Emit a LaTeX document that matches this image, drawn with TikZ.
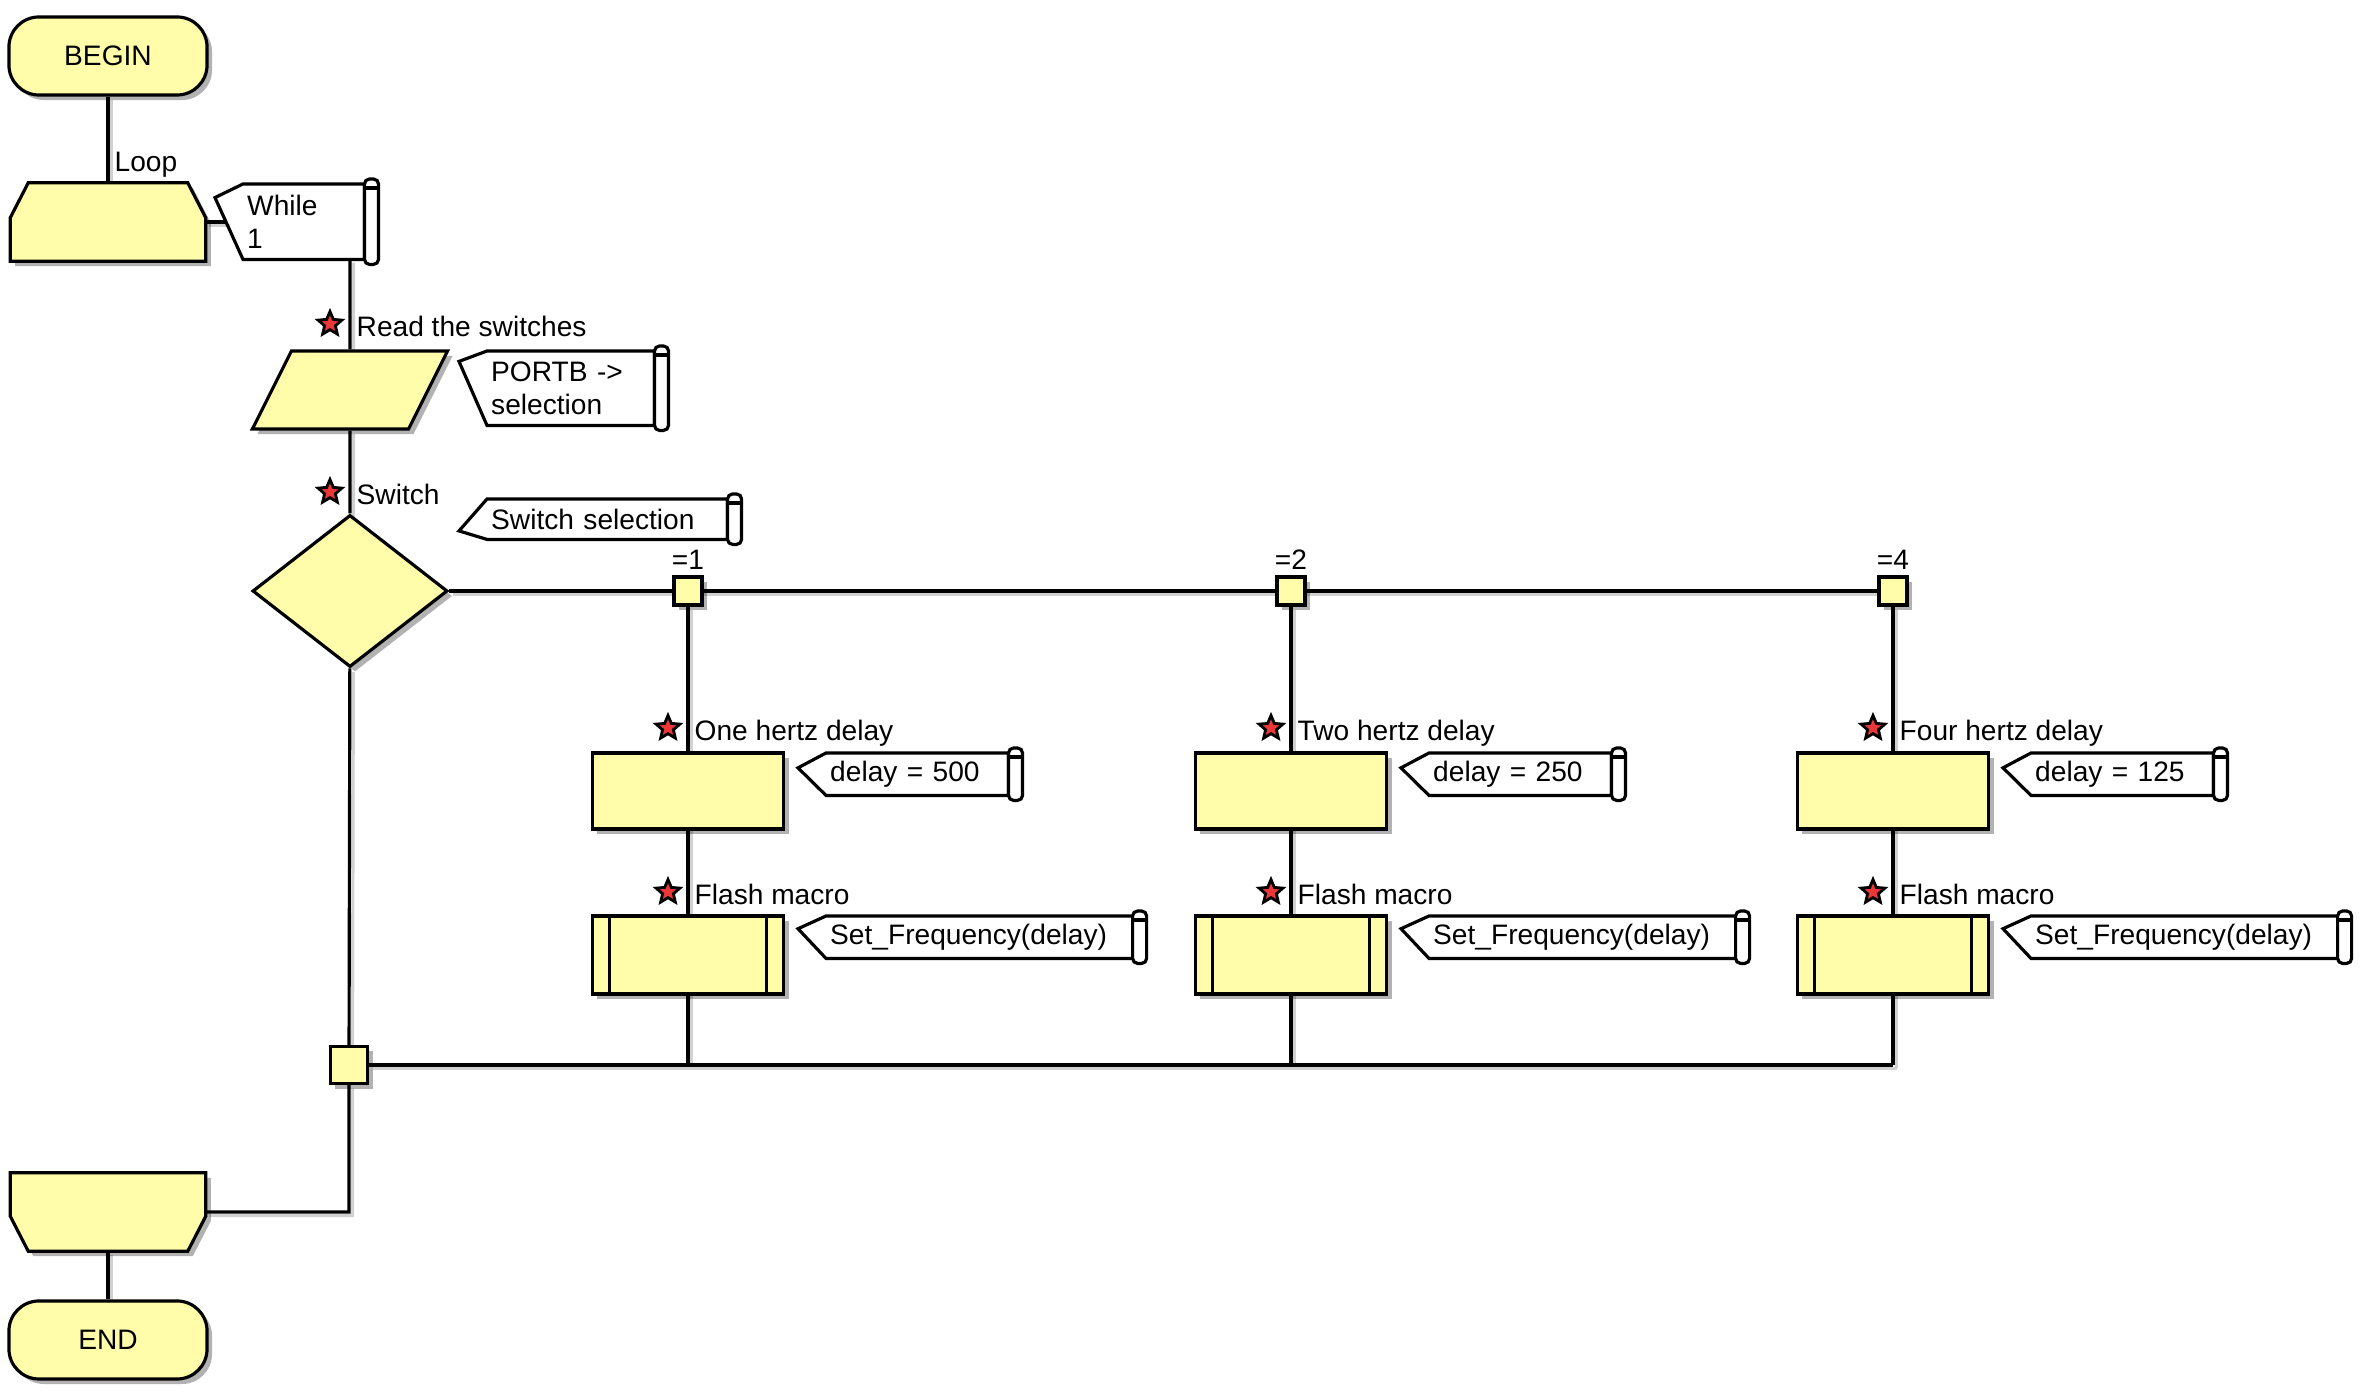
\documentclass[tikz,border=0pt]{standalone}
\usepackage{fontspec}
\setmainfont{Liberation Sans}
\usepackage{xcolor}
\usepackage{tikz}
\usetikzlibrary{shapes.geometric,shadows,calc,backgrounds}

\definecolor{fcyellow}{RGB}{255,252,170}
\definecolor{starred}{RGB}{235,55,55}

\begin{document}
\begin{tikzpicture}[
  x=0.01cm, y=-0.01cm,
  every node/.style={font=\fontsize{8}{9.4}\selectfont},
  box/.style={draw, line width=0.9pt, fill=fcyellow, inner sep=0pt,
    drop shadow={shadow xshift=0.05cm, shadow yshift=-0.05cm, opacity=0.3, fill=black}},
  terminal/.style={box, rectangle, rounded corners=0.3cm, minimum width=1.98cm, minimum height=0.78cm},
  loopnode/.style={inner sep=0pt, minimum width=1.94cm, minimum height=0.77cm},
  io/.style={box, trapezium, trapezium left angle=63.4, trapezium right angle=116.6,
    inner xsep=0.585cm, inner ysep=0.39cm},
  decision/.style={box, diamond, minimum width=1.95cm, minimum height=1.52cm},
  calcbox/.style={box, minimum width=1.91cm, minimum height=0.76cm},
  macrobox/.style={calcbox, minimum height=0.78cm,
    path picture={
      \draw[line width=0.9pt] ([xshift=0.17cm]path picture bounding box.north west) -- ([xshift=0.17cm]path picture bounding box.south west);
      \draw[line width=0.9pt] ([xshift=-0.17cm]path picture bounding box.north east) -- ([xshift=-0.17cm]path picture bounding box.south east);
    }},
  junction/.style={box, minimum size=0.28cm},
  cmt/.style 2 args={anchor=north west, inner xsep=1pt, inner ysep=0pt, align=left, text width=#1, minimum height=#2},
  cmtline/.style={line width=0.9pt},
  starmark/.style={star, star points=5, star point ratio=2.2, inner sep=0pt, minimum size=0.25cm,
    draw=black, line width=0.8pt, fill=starred},
  txt/.style={inner sep=0pt, anchor=base west},
  wire/.style={line width=0.9pt,
    preaction={draw=black!18, line width=0.9pt, transform canvas={shift={(0.035cm,-0.035cm)}}}}
]
\useasboundingbox (0,0) rectangle (2362,1392);

% Start and loop
\node[terminal] (begin) at (108,56) {BEGIN};
\node[txt] (lblLoop) at (114,172) {Loop};
\node[loopnode] (loopA) at (108,222) {};
\draw[box] ([xshift=0.18cm]loopA.north west) -- ([xshift=-0.18cm]loopA.north east)
  -- ([yshift=-0.35cm]loopA.north east) -- (loopA.south east) -- (loopA.south west)
  -- ([yshift=-0.35cm]loopA.north west) -- cycle;
\node[cmt={1.13cm}{0.74cm}] (cWhile) at (243,184) {While\\1};

% Read the switches
\node[starmark] (starRead) at (330,324) {};
\node[txt] (lblRead) at (356,337) {Read the switches};
\node[io] (read) at (350,390) {};
\node[cmt={1.59cm}{0.73cm}] (cRead) at (487,351) {PORTB ->\\selection};

% Switch
\node[starmark] (starSwitch) at (330,492) {};
\node[txt] (lblSwitch) at (356,505) {Switch};
\node[decision] (switch) at (350,591) {};
\node[cmt={2.32cm}{0.39cm}] (cSwitch) at (487,499) {Switch selection};

% Switch branches
\foreach \i/\x/\cv/\dv/\word in {1/688/1/500/One, 2/1291/2/250/Two, 3/1893/4/125/Four} {
  \node[junction] (case\i) at (\x,591) {};
  \node (caseLbl\i) at (\x,560) {=\cv};
  \node[starmark] (starC\i) at (\x-20,728) {};
  \node[txt] (lblC\i) at (\x+6,741) {\word\ hertz delay};
  \node[calcbox] (calc\i) at (\x,791) {};
  \node[cmt={1.74cm}{0.41cm}] (cDelay\i) at (\x+138,753) {delay = \dv};
  \node[starmark] (starM\i) at (\x-20,892) {};
  \node[txt] (lblM\i) at (\x+6,905) {Flash macro};
  \node[macrobox] (macro\i) at (\x,955) {};
  \node[cmt={2.98cm}{0.41cm}] (cFreq\i) at (\x+138,916) {Set\_Frequency(delay)};
}

% Merge and end
\node[junction, minimum size=0.37cm] (merge) at (349,1065) {};
\node[loopnode] (loopB) at (108,1212) {};
\draw[box] (loopB.north west) -- (loopB.north east) -- ([yshift=0.35cm]loopB.south east)
  -- ([xshift=-0.18cm]loopB.south east) -- ([xshift=0.18cm]loopB.south west)
  -- ([yshift=0.35cm]loopB.south west) -- cycle;
\node[terminal] (end) at (108,1340) {END};

% Comment outlines
\foreach \nm/\fr in {cWhile/0.18, cRead/0.14, cSwitch/0.79, cDelay1/0.35, cDelay2/0.35, cDelay3/0.35,
    cFreq1/0.3, cFreq2/0.3, cFreq3/0.3} {
  \draw[cmtline] (\nm.north west) -- (\nm.north east) -- (\nm.south east) -- (\nm.south west)
    -- ($(\nm.north west)!\fr!(\nm.south west)+(-28,0)$) -- cycle;
  \draw[cmtline, fill=white, rounded corners=0.05cm] ($(\nm.north east)+(0,-5)$) rectangle ($(\nm.south east)+(14,5)$);
  \draw[cmtline] ($(\nm.north east)+(0,4)$) -- ++(14,0);
}

% Connectors
\begin{scope}[on background layer]
  \draw[wire] (begin) -- (loopA);
  \draw[wire, shorten >=0.16cm] (loopA) -- (loopA -| cWhile.west);
  \draw[wire] (read |- cWhile.south) -- (read) -- (switch) -- (merge) |- (loopB);
  \draw[wire] (loopB) -- (end);
  \draw[wire] (switch) -- (case3);
  \foreach \i in {1,2,3} \draw[wire] (case\i) -- (case\i |- merge);
  \draw[wire] (merge) -- (merge -| case3);
\end{scope}

\end{tikzpicture}
\end{document}
